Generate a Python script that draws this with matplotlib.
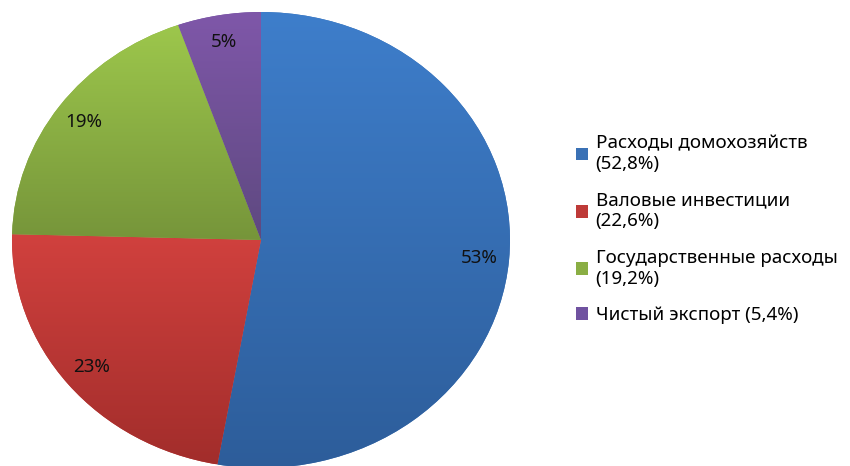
import matplotlib
matplotlib.use('Agg')
import matplotlib.pyplot as plt
import matplotlib.colors as mcolors
import numpy as np

plt.rcParams['font.family'] = ['Noto Sans', 'DejaVu Sans']

# данные
labels = ['Расходы домохозяйств\n(52,8%)', 'Валовые инвестиции\n(22,6%)',
          'Государственные расходы\n(19,2%)', 'Чистый экспорт (5,4%)']
shares = [52.8, 22.6, 19.2, 5.4]
pct_labels = ['53%', '23%', '19%', '5%']

# цвета: верх / низ градиента
top_colors = ['#3E7ECB', '#D1413E', '#9DC74C', '#7F57A9']
bottom_colors = ['#2D5D9A', '#A22D2B', '#76953A', '#5E4980']
mid_colors = ['#3A71B5', '#BE3A38', '#8AAE44', '#7052A0']

W, H = 850, 466
fig = plt.figure(figsize=(W / 100, H / 100), dpi=100)
fig.patch.set_facecolor('white')

# эллипс пирога
cx, cy, rx, ry = 261, 240, 249, 228
ax = fig.add_axes([(cx - rx) / W, (H - cy - ry) / H, 2 * rx / W, 2 * ry / H])

wedges, _ = ax.pie(shares, startangle=90, counterclock=False, colors=mid_colors,
                   wedgeprops=dict(linewidth=0))
ax.set_aspect('auto')
ax.axis('off')

# вертикальный градиент в каждом секторе
for w, c_top, c_bot in zip(wedges, top_colors, bottom_colors):
    bb = w.get_path().transformed(w.get_patch_transform()).get_extents()
    cmap = mcolors.LinearSegmentedColormap.from_list('g', [c_bot, c_top])
    grad = np.linspace(0, 1, 256).reshape(-1, 1)
    im = ax.imshow(grad, cmap=cmap, origin='lower', aspect='auto',
                   extent=(bb.x0, bb.x1, bb.y0, bb.y1), interpolation='bilinear',
                   zorder=w.get_zorder() + 0.1)
    im.set_clip_path(w)
ax.set_aspect('auto')
ax.set_xlim(-1, 1)
ax.set_ylim(-1, 1)

# подписи процентов
theta = 90.0
for w, s, txt in zip(wedges, shares, pct_labels):
    mid = np.deg2rad(theta - s * 3.6 / 2)
    theta -= s * 3.6
    ax.text(0.88 * np.cos(mid), 0.88 * np.sin(mid), txt, ha='center', va='center',
            fontsize=13.5, color='#111111', zorder=5)

leg = fig.legend(wedges, labels, loc='center left', bbox_to_anchor=(576 / W, 1 - 229 / H),
                 frameon=False, fontsize=13.5, handlelength=0.65, handleheight=0.65,
                 handletextpad=0.4, labelspacing=0.97, borderpad=0, borderaxespad=0)
for t in leg.get_texts():
    t.set_linespacing(1.22)

fig.savefig('out.png', dpi=100)
